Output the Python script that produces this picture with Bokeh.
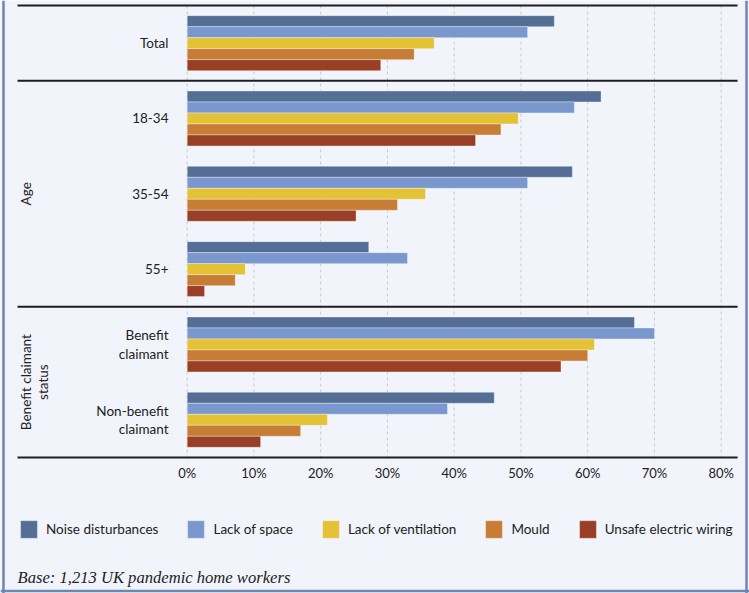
from math import pi

from bokeh.core.properties import value
from bokeh.embed import file_html
from bokeh.models import Label, Legend, LegendItem, Range1d
from bokeh.plotting import figure
from bokeh.resources import INLINE

# ---- data -----------------------------------------------------------------
groups = ["Total", "18-34", "35-54", "55+", "Benefit\nclaimant", "Non-benefit\nclaimant"]
section_titles = ["Age", "Benefit claimant\nstatus"]
section_centers = [2.5, 5.0]          # middle of the group rows each section covers
section_breaks = [0, 1, 4, 6]         # horizontal rules between sections

series = ["Noise disturbances", "Lack of space", "Lack of ventilation",
          "Mould", "Unsafe electric wiring"]
noise = [55, 62, 57.7, 27.2, 67, 46]
lack_of_space = [51, 58, 51, 33, 70, 39]
lack_of_ventilation = [37, 49.6, 35.7, 8.7, 61, 21]
mould = [34, 47, 31.5, 7.2, 60, 17]
unsafe_wiring = [29, 43.2, 25.3, 2.6, 56, 11]
values = [noise, lack_of_space, lack_of_ventilation, mould, unsafe_wiring]

ticks = [0, 10, 20, 30, 40, 50, 60, 70, 80]
tick_labels = ["0%", "10%", "20%", "30%", "40%", "50%", "60%", "70%", "80%"]
footnote = "Base: 1,213 UK pandemic home workers"

# ---- styling --------------------------------------------------------------
colors = ["#546e96", "#7a98ce", "#e3c236", "#c77d36", "#983f25"]
BG = "#f1f4fa"
FRAME_C = "#7186ae"
TEXT_C = "#222222"
FONT = "Lato"
BAR_H = 0.146

# the plotting area fills the whole canvas; ranges are chosen so that one
# percentage point is ~6.7 px and one group row is ~75 px
X0, X1 = -27.97, 84.24
Y_TOP, Y_BOTTOM = -0.066, 7.806
RULE_X0, RULE_X1 = -25.42, 82.45      # horizontal extent of the section rules

p = figure(
    width=749, height=593,
    x_range=Range1d(X0, X1),
    y_range=Range1d(Y_BOTTOM, Y_TOP),
    output_backend="svg", toolbar_location=None,
    x_axis_location=None, y_axis_location=None,
    min_border=0,
    background_fill_color=BG, border_fill_color=BG,
    outline_line_color=None,
)
p.xgrid.visible = False
p.ygrid.visible = False

# dashed vertical grid lines at each tick, only across the group rows
p.segment(x0=ticks, y0=[0] * len(ticks), x1=ticks, y1=[6] * len(ticks),
          line_color="#c8c8c8", line_dash="3 3", line_width=1)

# grouped horizontal bars
renderers = []
for k, (vals, col) in enumerate(zip(values, colors)):
    ys = [i + 0.5 + (k - 2) * BAR_H for i in range(len(groups))]
    r = p.hbar(y=ys, left=0, right=vals, height=BAR_H,
               fill_color=col, line_color="white", line_alpha=0.35, line_width=1)
    renderers.append(r)

# section rules
n = len(section_breaks)
p.segment(x0=[RULE_X0] * n, y0=section_breaks, x1=[RULE_X1] * n, y1=section_breaks,
          line_color="#1e1e1e", line_width=2)

# row labels
p.text(x=[-2.8] * len(groups), y=[i + 0.5 for i in range(len(groups))],
       text=groups, text_align="right", text_baseline="middle",
       text_font=value(FONT), text_font_size="13.5px", text_color=TEXT_C,
       text_line_height=1.15)

# rotated section labels
p.text(x=[-25.4] * len(section_titles), y=section_centers, text=section_titles,
       angle=pi / 2, text_align="center", text_baseline="top",
       text_font=value(FONT), text_font_size="13.5px", text_color=TEXT_C,
       text_line_height=1.1)

# percentage tick labels under the bottom rule
p.text(x=ticks, y=[6.2] * len(ticks), text=tick_labels,
       text_align="center", text_baseline="middle",
       text_font=value(FONT), text_font_size="13px", text_color=TEXT_C)

# legend below the chart
legend = Legend(
    items=[LegendItem(label=s, renderers=[r]) for s, r in zip(series, renderers)],
    orientation="horizontal", location=(18, 53),
    glyph_width=21, glyph_height=22, label_height=22,
    label_standoff=7, spacing=27, padding=0, margin=0,
    border_line_color=None, background_fill_alpha=0,
    label_text_font=FONT, label_text_font_size="13.5px", label_text_color=TEXT_C,
)
p.add_layout(legend)

p.add_layout(Label(
    x=17, y=16, x_units="screen", y_units="screen", text=footnote,
    text_font="Liberation Serif", text_font_style="italic",
    text_font_size="16.6px", text_baseline="middle", text_color=TEXT_C,
))

# outer frame: left, right and bottom edges
p.segment(x0=[X0 + 0.45, X1 - 0.45, X0], y0=[Y_TOP, Y_TOP, Y_BOTTOM - 0.033],
          x1=[X0 + 0.45, X1 - 0.45, X1], y1=[Y_BOTTOM, Y_BOTTOM, Y_BOTTOM - 0.033],
          line_color=FRAME_C, line_width=2.5)

open("out.html", "w").write(file_html(p, INLINE))
